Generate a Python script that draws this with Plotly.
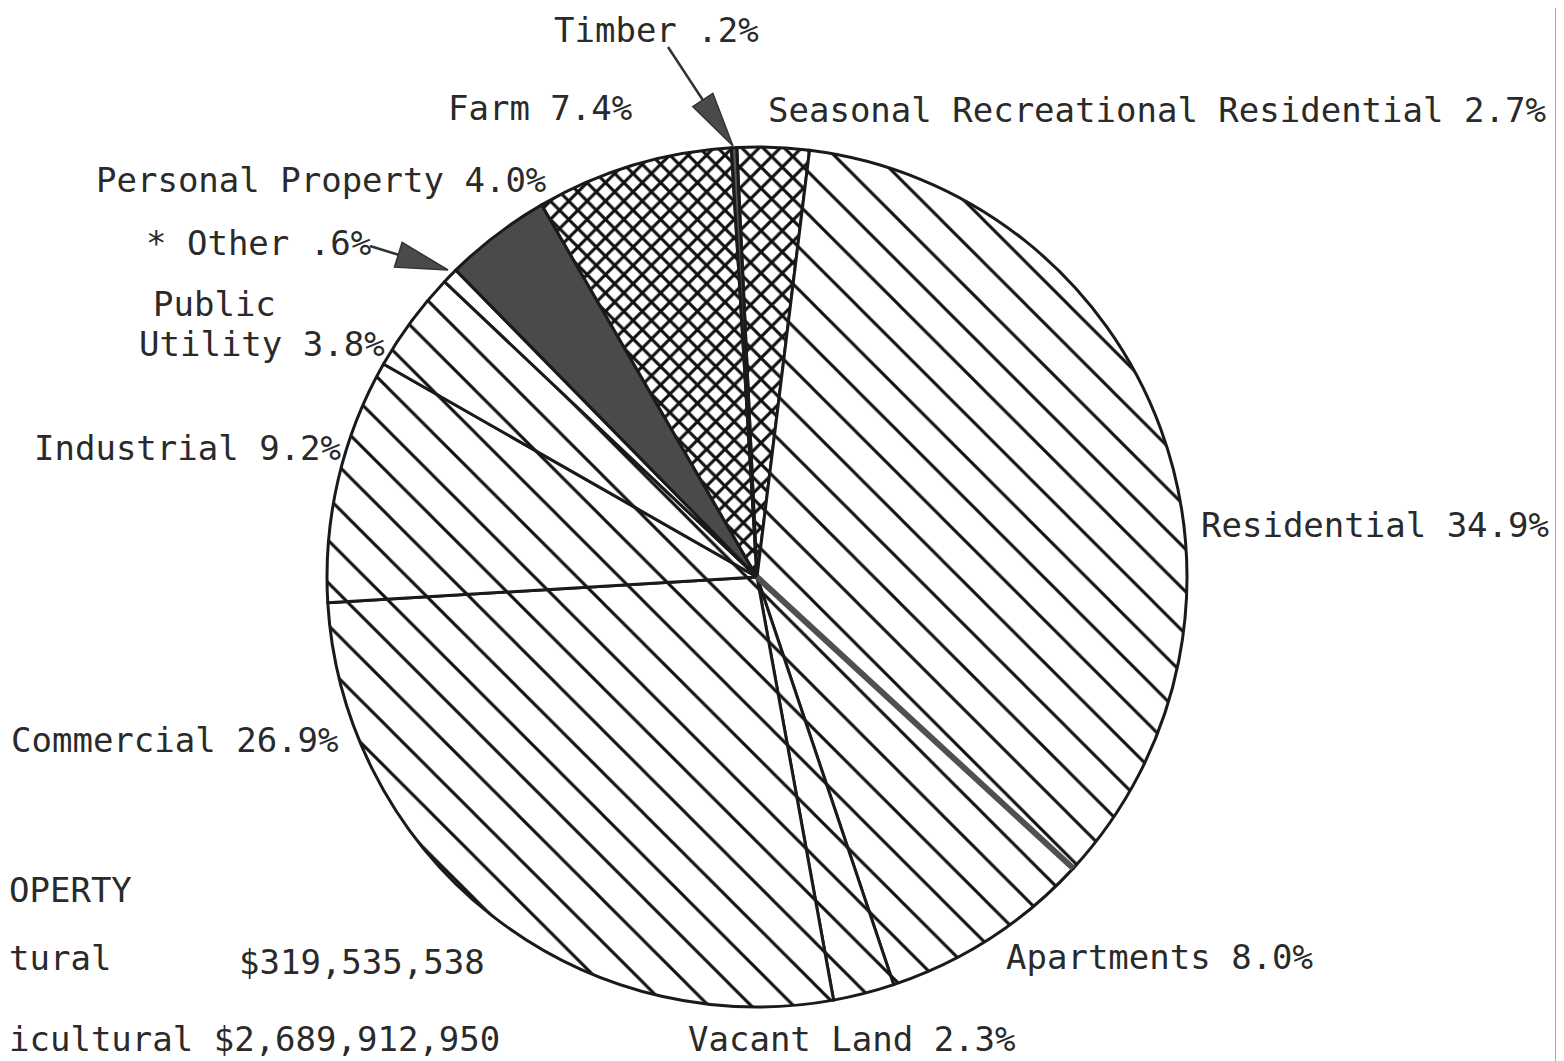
import math
import plotly.graph_objects as go

# ---- data (clockwise from the top) ----
categories = ["Seasonal Recreational Residential", "Residential", "Apartments", "Vacant Land",
              "Commercial", "Industrial", "Public Utility", "Other", "Personal Property",
              "Farm", "Timber"]
percents = [2.7, 34.9, 8.0, 2.3, 26.9, 9.2, 3.8, 0.6, 4.0, 7.4, 0.2]

value_lines = ["OPERTY", "tural", "$319,535,538", "icultural $2,689,912,950"]

# ---- styling ----
OFF = 8                      # page body margin of the browser
W, H = 1564 - OFF, 1061 - OFF
CX, CY, R = 757, 577, 430    # screen pixels of the reference
ROT = -2.7
FONT = dict(family="DejaVu Sans Mono", size=34, color="#2a2a2a")

shapes_ = ["x", "\\", "\\", "\\", "\\", "\\", "\\", "", "", "x", ""]
sizes_ = [15, 30, 30, 30, 30, 30, 30, 8, 8, 13, 8]
solid_ = [0.38, 0.1, 0.1, 0.1, 0.1, 0.1, 0.1, 0.3, 0.3, 0.42, 0.3]
colors_ = ["white", "white", "white", "white", "white", "white", "white", "white",
           "#4a4a4a", "white", "#555555"]


def px(x):
    return (x - OFF) / W


def py(y):
    return 1 - (y - OFF) / H


fig = go.Figure(go.Pie(
    labels=categories,
    values=percents,
    sort=False,
    direction="clockwise",
    rotation=ROT,
    textinfo="none",
    hoverinfo="label+percent",
    showlegend=False,
    domain=dict(x=[px(CX - R), px(CX + R)], y=[py(CY + R), py(CY - R)]),
    marker=dict(
        colors=colors_,
        line=dict(color="#1a1a1a", width=3),
        pattern=dict(shape=shapes_, size=sizes_, solidity=solid_,
                     fgcolor="#111111", bgcolor=colors_, fillmode="replace"),
    ),
))

# thick boundary between Residential and Apartments, derived from the data
cum = sum(percents[:2])
ang = math.radians(ROT + 360 * cum / 100)
ex, ey = CX + R * math.sin(ang), CY - R * math.cos(ang)
shapes = [
    dict(type="line", xref="paper", yref="paper", x0=px(CX), y0=py(CY), x1=px(ex), y1=py(ey),
         line=dict(color="#505050", width=6)),
    dict(type="line", xref="paper", yref="paper", x0=px(1558), y0=-0.02, x1=px(1558), y1=1.02,
         line=dict(color="#555555", width=5)),
]


def arrow(tail, head, hl, hw):
    tx, ty = tail
    hx, hy = head
    d = math.hypot(hx - tx, hy - ty)
    ux, uy = (hx - tx) / d, (hy - ty) / d
    bx, by = hx - ux * hl, hy - uy * hl
    nx, ny = -uy, ux
    shapes.append(dict(type="line", xref="paper", yref="paper",
                       x0=px(tx), y0=py(ty), x1=px(bx), y1=py(by),
                       line=dict(color="#333333", width=2.5)))
    p = "M{:.5f},{:.5f} L{:.5f},{:.5f} L{:.5f},{:.5f} Z".format(
        px(hx), py(hy), px(bx + nx * hw), py(by + ny * hw), px(bx - nx * hw), py(by - ny * hw))
    shapes.append(dict(type="path", xref="paper", yref="paper", path=p,
                       fillcolor="#4a4a4a", line=dict(color="#333333", width=1.5)))


arrow((668, 47), (733, 146), 55, 12)
arrow((370, 246), (448, 270), 52, 13)

labels_txt = [
    ("Timber .2%", 553, 30, "left"),
    ("Farm 7.4%", 447, 108, "left"),
    ("Seasonal Recreational Residential 2.7%", 767, 110, "left"),
    ("Personal Property 4.0%", 95, 180, "left"),
    ("* Other .6%", 145, 243, "left"),
    ("Public", 152, 304, "left"),
    ("Utility 3.8%", 138, 344, "left"),
    ("Industrial 9.2%", 33, 448, "left"),
    ("Residential 34.9%", 1200, 525, "left"),
    ("Commercial 26.9%", 10, 740, "left"),
    ("Apartments 8.0%", 1005, 957, "left"),
    ("Vacant Land 2.3%", 687, 1039, "left"),
    (value_lines[0], 8, 890, "left"),
    (value_lines[1], 8, 958, "left"),
    (value_lines[2], 238, 962, "left"),
    (value_lines[3], 8, 1039, "left"),
]
ann = []
for t, x, y, anc in labels_txt:
    ann.append(dict(text=t, x=px(x), y=py(y), xref="paper", yref="paper",
                    xanchor=anc, yanchor="middle", showarrow=False, font=FONT,
                    borderpad=0))

fig.update_layout(
    width=W, height=H,
    margin=dict(l=0, r=0, t=0, b=0),
    paper_bgcolor="white", plot_bgcolor="white",
    shapes=shapes, annotations=ann,
)

fig.write_html(
    "out.html",
    post_script="document.documentElement.style.overflow='hidden';"
                "document.body.style.overflow='hidden';",
)
